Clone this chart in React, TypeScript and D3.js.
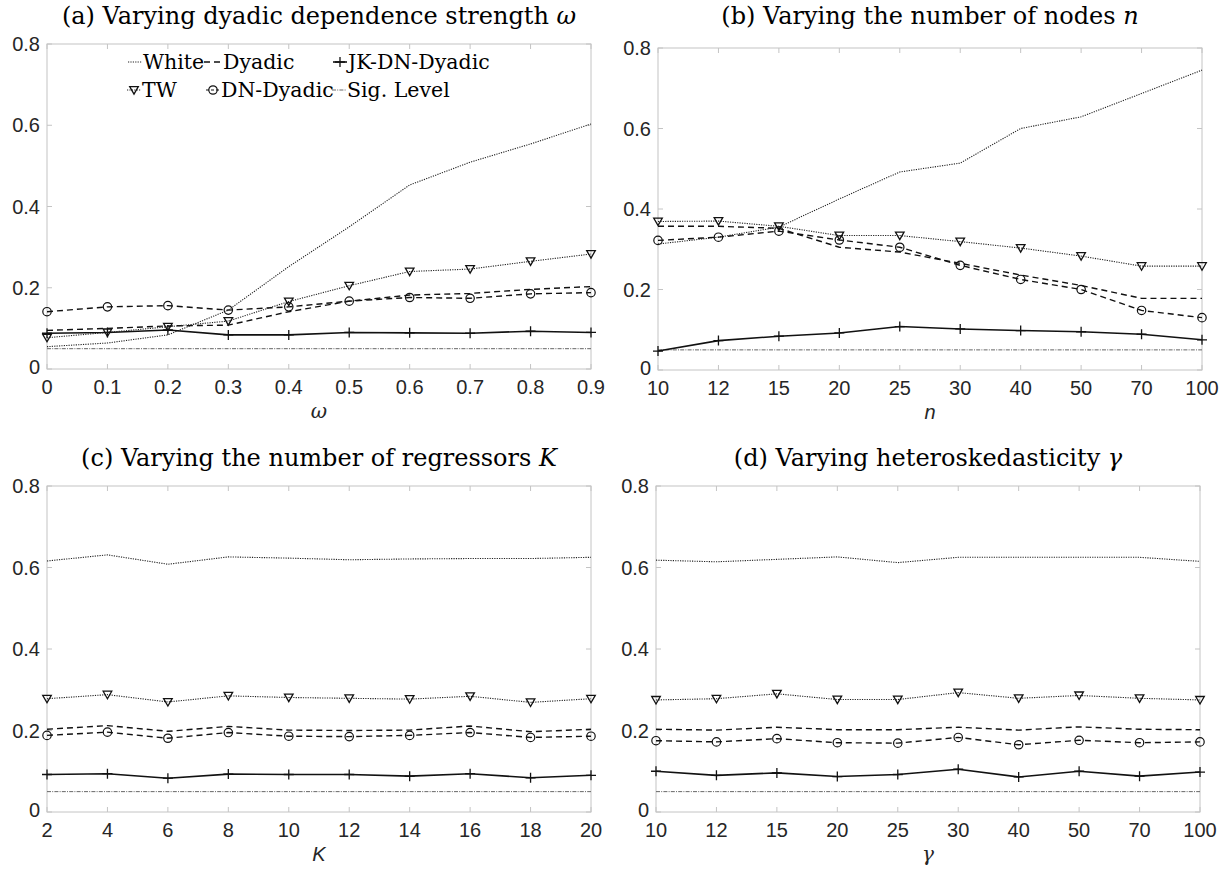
import React from 'react';
import * as d3 from 'd3';

// tick labels along the x axis of each panel
const omegaTicks = ['0', '0.1', '0.2', '0.3', '0.4', '0.5', '0.6', '0.7', '0.8', '0.9'];
const nodeTicks = ['10', '12', '15', '20', '25', '30', '40', '50', '70', '100'];
const kTicks = ['2', '4', '6', '8', '10', '12', '14', '16', '18', '20'];
const gammaTicks = ['10', '12', '15', '20', '25', '30', '40', '50', '70', '100'];
const yTicks = [0, 0.2, 0.4, 0.6, 0.8];
const sigLevel = 0.05;

// (a) varying omega
const whiteA = [0.055, 0.064, 0.084, 0.145, 0.252, 0.35, 0.453, 0.509, 0.554, 0.603];
const twA = [0.077, 0.09, 0.104, 0.118, 0.166, 0.205, 0.24, 0.246, 0.265, 0.283];
const dyadicA = [0.095, 0.1, 0.106, 0.108, 0.141, 0.167, 0.182, 0.186, 0.196, 0.203];
const dnA = [0.141, 0.153, 0.156, 0.145, 0.153, 0.167, 0.176, 0.174, 0.185, 0.188];
const jkA = [0.088, 0.09, 0.096, 0.084, 0.084, 0.09, 0.089, 0.088, 0.093, 0.09];

// (b) varying n
const whiteB = [0.313, 0.33, 0.355, 0.425, 0.492, 0.514, 0.6, 0.629, 0.687, 0.745];
const twB = [0.369, 0.37, 0.357, 0.334, 0.334, 0.319, 0.303, 0.283, 0.258, 0.258];
const dyadicB = [0.357, 0.357, 0.352, 0.305, 0.293, 0.265, 0.236, 0.21, 0.178, 0.178];
const dnB = [0.322, 0.33, 0.345, 0.323, 0.305, 0.26, 0.225, 0.2, 0.148, 0.13];
const jkB = [0.047, 0.073, 0.084, 0.092, 0.108, 0.102, 0.098, 0.095, 0.089, 0.075];

// (c) varying K
const whiteC = [0.616, 0.631, 0.608, 0.626, 0.623, 0.619, 0.621, 0.622, 0.622, 0.625];
const twC = [0.278, 0.288, 0.27, 0.285, 0.281, 0.279, 0.277, 0.284, 0.269, 0.278];
const dyadicC = [0.203, 0.212, 0.198, 0.21, 0.201, 0.2, 0.201, 0.211, 0.197, 0.203];
const dnC = [0.188, 0.196, 0.181, 0.195, 0.186, 0.185, 0.188, 0.195, 0.183, 0.186];
const jkC = [0.092, 0.094, 0.083, 0.093, 0.092, 0.092, 0.088, 0.094, 0.084, 0.09];

// (d) varying gamma
const whiteD = [0.618, 0.614, 0.62, 0.626, 0.612, 0.625, 0.625, 0.625, 0.625, 0.615];
const twD = [0.275, 0.278, 0.29, 0.276, 0.276, 0.293, 0.279, 0.286, 0.279, 0.275];
const dyadicD = [0.203, 0.201, 0.208, 0.202, 0.202, 0.208, 0.201, 0.209, 0.203, 0.202];
const dnD = [0.175, 0.172, 0.18, 0.17, 0.169, 0.183, 0.165, 0.176, 0.17, 0.172];
const jkD = [0.1, 0.09, 0.096, 0.087, 0.092, 0.105, 0.086, 0.1, 0.088, 0.098];

const SERIF = '"DejaVu Serif", serif';
const SANS = '"Liberation Sans", Arial, sans-serif';
const FRAME = '#c4c4c4';

const style: any = {
  white: { dash: '1.2,1.2', width: 1.1, color: '#222' },
  tw: { dash: '1.2,1.2', width: 1.1, color: '#222' },
  dyadic: { dash: '6,4', width: 1.4, color: '#111' },
  dn: { dash: '6,4', width: 1.4, color: '#111' },
  jk: { dash: null, width: 1.6, color: '#111' },
  sig: { dash: '4,1.2,1,1.2', width: 1, color: '#666' },
};

function Marker({ kind, x, y }: { kind: string; x: number; y: number }) {
  if (kind === 'tw') {
    const s = 4.3;
    return <path d={`M${x - s},${y - s * 0.8}L${x + s},${y - s * 0.8}L${x},${y + s * 0.95}Z`} fill="none" stroke="#111" strokeWidth={1.3} />;
  }
  if (kind === 'dn') return <circle cx={x} cy={y} r={4.2} fill="none" stroke="#111" strokeWidth={1.2} />;
  if (kind === 'jk') return <path d={`M${x - 5},${y}H${x + 5}M${x},${y - 5}V${y + 5}`} stroke="#111" strokeWidth={1.3} />;
  return null;
}

function Panel(props: any) {
  const { ticks, box, series, title, titleVar, xlabel, xlabelFont, legend } = props;
  const x = d3.scalePoint<string>().domain(ticks).range([box.x0, box.x1]).padding(0);
  const y = d3.scaleLinear().domain([0, 0.8]).range([box.y1, box.y0]);
  const line = d3.line<number>().x((d, i) => x(ticks[i]) as number).y(d => y(d));
  const cx = (box.x0 + box.x1) / 2;
  const order = ['sig', 'white', 'dyadic', 'jk', 'tw', 'dn'];
  const all: any = { ...series, sig: ticks.map(() => sigLevel) };

  return (
    <g>
      <text x={cx} y={box.titleY} textAnchor="middle" fontFamily={SERIF} fontSize={24} fill="#000">
        {title}<tspan fontStyle="italic">{titleVar}</tspan>
      </text>
      <rect x={box.x0} y={box.y0} width={box.x1 - box.x0} height={box.y1 - box.y0} fill="#fff" stroke={FRAME} strokeWidth={1} />
      {ticks.map((t: string) => (
        <g key={t}>
          <line x1={x(t)} x2={x(t)} y1={box.y1} y2={box.y1 - 5} stroke={FRAME} />
          <line x1={x(t)} x2={x(t)} y1={box.y0} y2={box.y0 + 5} stroke={FRAME} />
          <text x={x(t)} y={box.y1 + 25} textAnchor="middle" fontFamily={SANS} fontSize={20} fill="#262626">{t}</text>
        </g>
      ))}
      {yTicks.map(t => (
        <g key={t}>
          <line x1={box.x0} x2={box.x0 + 5} y1={y(t)} y2={y(t)} stroke={FRAME} />
          <line x1={box.x1} x2={box.x1 - 5} y1={y(t)} y2={y(t)} stroke={FRAME} />
          <text x={box.x0 - 7} y={y(t) + (t === 0 ? 5 : 7)} textAnchor="end" fontFamily={SANS} fontSize={20} fill="#262626">{t === 0 ? '0' : t.toFixed(1)}</text>
        </g>
      ))}
      {order.map(k => {
        const st = style[k];
        return (
          <g key={k}>
            <path d={line(all[k]) as string} fill="none" stroke={st.color} strokeWidth={st.width} strokeDasharray={st.dash || undefined} />
            {all[k].map((v: number, i: number) => <Marker key={i} kind={k} x={x(ticks[i]) as number} y={y(v)} />)}
          </g>
        );
      })}
      <text x={cx} y={box.y1 + 49} textAnchor="middle" fontFamily={xlabelFont} fontStyle="italic" fontSize={20} fill="#262626">{xlabel}</text>
      {legend && <Legend />}
    </g>
  );
}

function Legend() {
  const r1 = 62, r2 = 90;
  const sample = (k: string, x0: number, x1: number, yy: number) => (
    <line x1={x0} x2={x1} y1={yy} y2={yy} stroke={style[k].color} strokeWidth={style[k].width} strokeDasharray={style[k].dash || undefined} />
  );
  const txt = (s: string, xx: number, yy: number) => (
    <text x={xx} y={yy + 7} fontFamily={SERIF} fontSize={20.5} fill="#000">{s}</text>
  );
  return (
    <g>
      {sample('white', 128, 142, r1)}{txt('White', 143, r1)}
      {sample('dyadic', 204, 222, r1)}{txt('Dyadic', 223, r1)}
      {sample('jk', 333, 347, r1)}<Marker kind="jk" x={340} y={r1} />{txt('JK-DN-Dyadic', 348, r1)}
      {sample('tw', 127, 141, r2)}<Marker kind="tw" x={134} y={r2} />{txt('TW', 142, r2)}
      <line x1={206} x2={220} y1={r2} y2={r2} stroke="#111" strokeWidth={1.2} strokeDasharray="3,2" /><Marker kind="dn" x={213} y={r2} />{txt('DN-Dyadic', 221, r2)}
      {sample('sig', 332, 346, r2)}{txt('Sig. Level', 347, r2)}
    </g>
  );
}

export default function App() {
  return (
    <svg width={1228} height={879} style={{ display: 'block', position: 'absolute', left: 0, top: 0 }}>
      <rect width={1228} height={879} fill="#fff" />
      <Panel ticks={omegaTicks} box={{ x0: 47, x1: 591, y0: 44, y1: 369, titleY: 24 }}
        series={{ white: whiteA, tw: twA, dyadic: dyadicA, dn: dnA, jk: jkA }}
        title="(a) Varying dyadic dependence strength " titleVar="ω" xlabel="ω" xlabelFont={SERIF} legend />
      <Panel ticks={nodeTicks} box={{ x0: 658, x1: 1202, y0: 48, y1: 370, titleY: 24 }}
        series={{ white: whiteB, tw: twB, dyadic: dyadicB, dn: dnB, jk: jkB }}
        title="(b) Varying the number of nodes " titleVar="n" xlabel="n" xlabelFont={SANS} />
      <Panel ticks={kTicks} box={{ x0: 47, x1: 591, y0: 486, y1: 812, titleY: 466 }}
        series={{ white: whiteC, tw: twC, dyadic: dyadicC, dn: dnC, jk: jkC }}
        title="(c) Varying the number of regressors " titleVar="K" xlabel="K" xlabelFont={SANS} />
      <Panel ticks={gammaTicks} box={{ x0: 656, x1: 1200, y0: 486, y1: 812, titleY: 466 }}
        series={{ white: whiteD, tw: twD, dyadic: dyadicD, dn: dnD, jk: jkD }}
        title="(d) Varying heteroskedasticity " titleVar="γ" xlabel="γ" xlabelFont={SERIF} />
    </svg>
  );
}
